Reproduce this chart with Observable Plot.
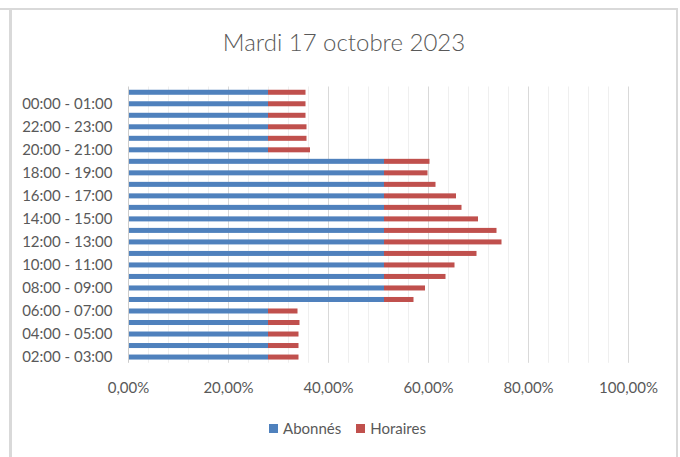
<!DOCTYPE html>
<html>
<head>
<meta charset="utf-8">
<script src="https://cdn.jsdelivr.net/npm/d3@7"></script>
<script src="https://cdn.jsdelivr.net/npm/@observablehq/plot@0.6"></script>
<style>
html, body { margin: 0; padding: 0; background: #ffffff; }
#wrap { position: relative; width: 680px; height: 457px; overflow: hidden; font-family: Lato, "Open Sans", sans-serif; color: #595959; }
#wrap svg { position: absolute; left: 0; top: 0; }
#frame { position: absolute; left: 9px; top: 8px; width: 669px; height: 470px; box-sizing: border-box; border: 2px solid #d9d9d9; border-left-width: 3px; }
#frameTop { position: absolute; left: 0; top: 8px; width: 10px; height: 2px; background: #d9d9d9; }
#title { position: absolute; left: 0; width: 688px; top: 30px; text-align: center; font-size: 24px; line-height: 24px; font-weight: 300; color: #595959; }
#legend { position: absolute; left: 0; width: 695px; top: 420px; height: 16px; display: flex; justify-content: center; align-items: center; font-size: 15px; line-height: 16px; color: #595959; }
.item { display: flex; align-items: center; margin: 0 7.5px; }
.swatch { width: 9px; height: 9px; margin-right: 5px; }
</style>
</head>
<body>
<div id="wrap">
  <div id="frameTop"></div>
  <div id="frame"></div>
  <div id="title"></div>
  <div id="legend"></div>
</div>
<script>
const title = "Mardi 17 octobre 2023";

// categories listed from bottom to top of the chart
const categories = [
  "02:00 - 03:00", "03:00 - 04:00", "04:00 - 05:00", "05:00 - 06:00", "06:00 - 07:00",
  "07:00 - 08:00", "08:00 - 09:00", "09:00 - 10:00", "10:00 - 11:00", "11:00 - 12:00",
  "12:00 - 13:00", "13:00 - 14:00", "14:00 - 15:00", "15:00 - 16:00", "16:00 - 17:00",
  "17:00 - 18:00", "18:00 - 19:00", "19:00 - 20:00", "20:00 - 21:00", "21:00 - 22:00",
  "22:00 - 23:00", "23:00 - 00:00", "00:00 - 01:00", "01:00 - 02:00"
];

// values in percent, same order as categories
const abonnes = [
  28.0, 28.0, 28.0, 28.0, 28.0,
  51.2, 51.2, 51.2, 51.2, 51.2,
  51.2, 51.2, 51.2, 51.2, 51.2,
  51.2, 51.2, 51.2, 28.0, 28.0,
  28.0, 28.0, 28.0, 28.0
];
const horaires = [
  6.1, 6.1, 6.1, 6.3, 5.9,
  5.9, 8.2, 12.3, 14.1, 18.5,
  23.5, 22.5, 18.8, 15.5, 14.4,
  10.3, 8.7, 9.1, 8.4, 7.7,
  7.7, 7.5, 7.5, 7.5
];

const seriesNames = ["Abonnés", "Horaires"];
const seriesColors = ["#4f81bd", "#c0504d"];
const xTicks = [0, 20, 40, 60, 80, 100];
const xMinorTicks = [4, 8, 12, 16, 24, 28, 32, 36, 44, 48, 52, 56, 64, 68, 72, 76, 84, 88, 92, 96];
const yTickLabels = categories.filter((d, i) => i % 2 === 0);

const data = [];
categories.forEach((c, i) => data.push({hour: c, series: seriesNames[0], value: abonnes[i]}));
categories.forEach((c, i) => data.push({hour: c, series: seriesNames[1], value: horaires[i]}));

const chart = Plot.plot({
  width: 680,
  height: 457,
  marginTop: 86.5,
  marginBottom: 94.2,
  marginLeft: 128,
  marginRight: 52,
  style: {fontFamily: "Lato, 'Open Sans', sans-serif", fontSize: "15px", color: "#595959", background: "transparent", overflow: "visible"},
  x: {domain: [0, 100]},
  y: {domain: categories.slice().reverse(), padding: 0, round: false},
  color: {domain: seriesNames, range: seriesColors},
  marks: [
    Plot.ruleX(xMinorTicks, {stroke: "#efefef", strokeWidth: 1}),
    Plot.ruleX(xTicks.filter(d => d > 0), {stroke: "#d9d9d9", strokeWidth: 1}),
    Plot.barX(data, {x: "value", y: "hour", fill: "series", insetTop: 3.25, insetBottom: 3.25}),
    Plot.ruleX([0], {stroke: "#cccccc", strokeWidth: 1}),
    Plot.axisX({ticks: xTicks, tickSize: 0, tickPadding: 19, label: null,
      tickFormat: d => d.toFixed(2).replace(".", ",") + "%"}),
    Plot.axisY({ticks: yTickLabels, tickSize: 0, tickPadding: 16, label: null})
  ]
});

const wrap = document.getElementById("wrap");
wrap.insertBefore(chart, wrap.firstChild);

document.getElementById("title").textContent = title;

const legend = document.getElementById("legend");
seriesNames.forEach((name, i) => {
  const item = document.createElement("div");
  item.className = "item";
  const sw = document.createElement("div");
  sw.className = "swatch";
  sw.style.background = seriesColors[i];
  const label = document.createElement("span");
  label.textContent = name;
  item.appendChild(sw);
  item.appendChild(label);
  legend.appendChild(item);
});
</script>
</body>
</html>
